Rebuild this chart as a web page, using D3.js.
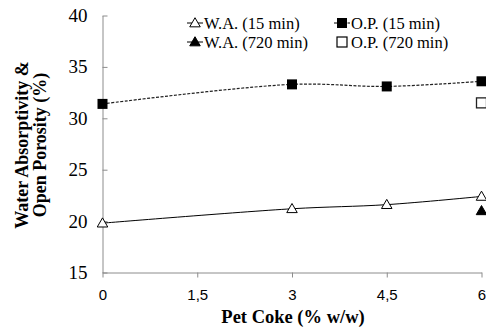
<!DOCTYPE html>
<html>
<head>
<meta charset="utf-8">
<script src="https://cdn.jsdelivr.net/npm/d3@7"></script>
<style>
  html, body { margin: 0; padding: 0; background: #fff; }
  svg { display: block; }
</style>
</head>
<body>
<svg id="chart" width="486" height="327"></svg>
<script>
// Pet coke content (% w/w)
const petCoke = [0, 3, 4.5, 6];
// Water absorptivity and open porosity (%)
const wa15 = [19.8, 21.2, 21.6, 22.4];
const op15 = [31.4, 33.3, 33.1, 33.6];
const wa720X = [6];
const wa720 = [21.0];
const op720X = [6];
const op720 = [31.5];

const xTicks = [0, 1.5, 3, 4.5, 6];
const yTicks = [15, 20, 25, 30, 35, 40];

const SERIF = '"Liberation Serif", "Times New Roman", serif';
const SANS = '"Liberation Sans", Arial, sans-serif';

const svg = d3.select("#chart");

const x = d3.scaleLinear().domain([0, 6]).range([102.5, 481.5]);
const y = d3.scaleLinear().domain([15, 40]).range([272.5, 15.5]);
const axisColor = "#8c8c8c";

// y axis
const yAxis = svg.append("g")
  .attr("transform", `translate(${x(0)},0)`)
  .call(d3.axisLeft(y).tickValues(yTicks).tickSizeInner(-5).tickSizeOuter(0).tickPadding(15));
yAxis.select(".domain").attr("stroke", axisColor);
yAxis.selectAll(".tick line").attr("stroke", axisColor);
yAxis.selectAll("text").style("font-family", SERIF).style("font-size", "19px").attr("fill", "#000");

// x axis
const xAxis = svg.append("g")
  .attr("transform", `translate(0,${y(15)})`)
  .call(d3.axisBottom(x).tickValues(xTicks).tickSize(5).tickSizeOuter(0).tickPadding(12)
    .tickFormat(d => String(d).replace(".", ",")));
xAxis.select(".domain").attr("stroke", axisColor);
xAxis.selectAll(".tick line").attr("stroke", axisColor);
xAxis.selectAll("text").style("font-family", SANS).style("font-size", "15px").attr("fill", "#000");

// axis titles
svg.append("text")
  .attr("x", 293).attr("y", 323)
  .attr("text-anchor", "middle")
  .style("font-family", SERIF).style("font-weight", "bold").style("font-size", "18.5px")
  .text("Pet Coke (% w/w)");

const yTitle = svg.append("text")
  .attr("transform", "translate(0,145) rotate(-90)")
  .attr("text-anchor", "middle")
  .style("font-family", SERIF).style("font-weight", "bold").style("font-size", "18px");
yTitle.append("tspan").attr("x", 0).attr("y", 28).text("Water Absorptivity &");
yTitle.append("tspan").attr("x", 0).attr("y", 46).text("Open Porosity (%)");

// lines
const line = d3.line().curve(d3.curveCatmullRom.alpha(0.5));
const waPts = petCoke.map((d, i) => [x(d), y(wa15[i])]);
const opPts = petCoke.map((d, i) => [x(d), y(op15[i])]);

svg.append("path").attr("d", line(waPts))
  .attr("fill", "none").attr("stroke", "#000").attr("stroke-width", 1);
svg.append("path").attr("d", line(opPts))
  .attr("fill", "none").attr("stroke", "#222").attr("stroke-width", 1.2)
  .attr("stroke-dasharray", "3,1.5");

// markers
const tri = d3.symbol().type(d3.symbolTriangle).size(48);
const sq = 10;

function triangle(g, cx, cy, filled) {
  g.append("path").attr("d", tri())
    .attr("transform", `translate(${cx},${cy + 0.8})`)
    .attr("fill", filled ? "#000" : "#fff").attr("stroke", "#000").attr("stroke-width", 1);
}
function square(g, cx, cy, filled) {
  g.append("rect")
    .attr("x", cx - sq / 2).attr("y", cy - sq / 2)
    .attr("width", sq).attr("height", sq)
    .attr("fill", filled ? "#000" : "#fff")
    .attr("stroke", filled ? "#000" : "#222").attr("stroke-width", filled ? 0 : 1.3);
}

const marks = svg.append("g");
waPts.forEach(p => triangle(marks, p[0], p[1], false));
opPts.forEach(p => square(marks, p[0], p[1], true));
wa720X.forEach((d, i) => triangle(marks, x(d), y(wa720[i]), true));
op720X.forEach((d, i) => square(marks, x(d), y(op720[i]), false));

// legend
const legend = svg.append("g");
const legendItems = [
  { label: "W.A. (15 min)", lx: 195, ly: 23, kind: "tri", filled: false, dash: null },
  { label: "W.A. (720 min)", lx: 195, ly: 42, kind: "tri", filled: true, dash: null },
  { label: "O.P. (15 min)", lx: 342, ly: 23, kind: "sq", filled: true, dash: "3,1.5" },
  { label: "O.P. (720 min)", lx: 342, ly: 42, kind: "sq", filled: false, dash: null }
];
legendItems.forEach(it => {
  if (!(it.kind === "sq" && !it.filled)) {
    legend.append("line")
      .attr("x1", it.lx - 8).attr("x2", it.lx + 8)
      .attr("y1", it.ly).attr("y2", it.ly)
      .attr("stroke", "#000").attr("stroke-width", 1)
      .attr("stroke-dasharray", it.dash);
  }
  if (it.kind === "tri") triangle(legend, it.lx, it.ly, it.filled);
  else {
    legend.append("rect")
      .attr("x", it.lx - 5).attr("y", it.ly - 5).attr("width", 10).attr("height", 10)
      .attr("fill", it.filled ? "#000" : "#fff")
      .attr("stroke", "#000").attr("stroke-width", it.filled ? 0 : 1.2);
  }
  legend.append("text")
    .attr("x", it.lx + 9).attr("y", it.ly + 5.5)
    .style("font-family", SERIF).style("font-size", "16.5px")
    .text(it.label);
});
</script>
</body>
</html>
